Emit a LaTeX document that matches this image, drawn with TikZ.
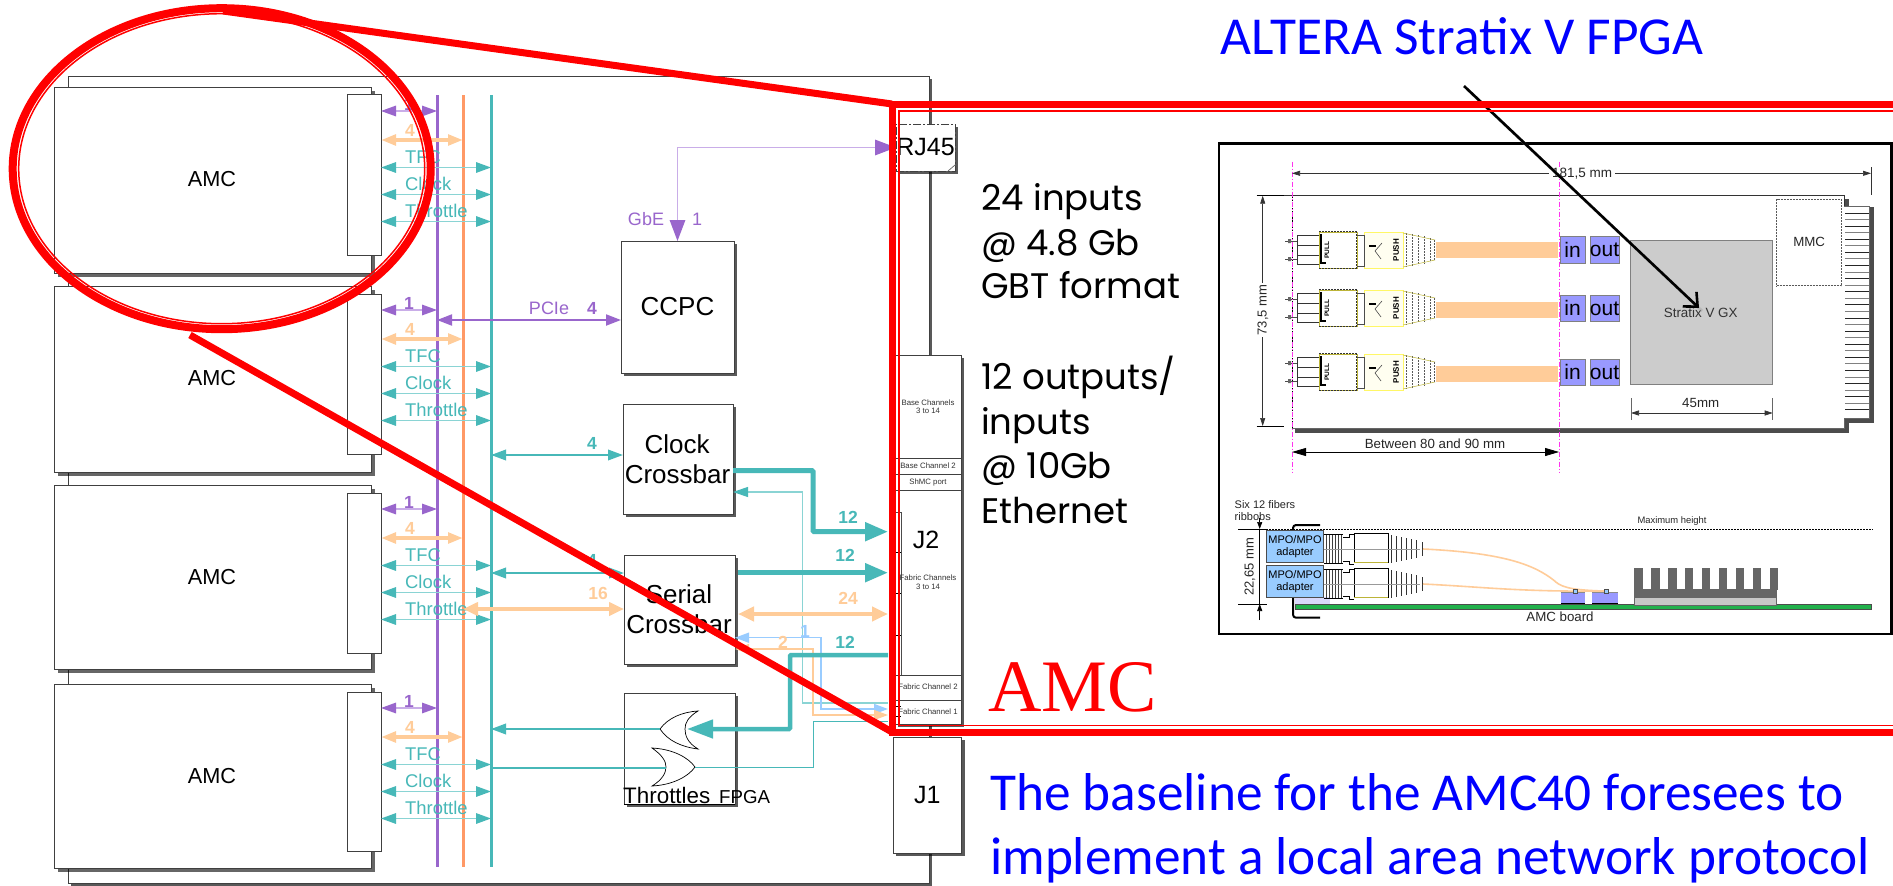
\documentclass[tikz,border=0pt]{standalone}
\usepackage{fontspec}
\setmainfont{Liberation Sans}
\newfontfamily\gothic{Poppins}
\newfontfamily\carl{Carlito}
\newfontfamily\tms{Liberation Serif}
\usetikzlibrary{arrows.meta,shadows,calc}
\definecolor{purp}{HTML}{9966CC}
\definecolor{purpl}{HTML}{C9ADE8}
\definecolor{orng}{HTML}{FF9966}
\definecolor{orngl}{HTML}{FFCC99}
\definecolor{teal1}{HTML}{47B8B8}
\definecolor{teall}{HTML}{8AD4D4}
\definecolor{skyb}{HTML}{99CCFF}
\definecolor{chipb}{HTML}{9999FF}
\definecolor{magen}{HTML}{FF33EE}
\definecolor{pcbg}{HTML}{22B14C}
\newcommand\fs[1]{\fontsize{#1}{#1}\selectfont}
\newcommand\rectnode[7]{%
  \pgfmathsetmacro\rcx{(#2+#4)/2}\pgfmathsetmacro\rcy{(#3+#5)/2}%
  \node[inner sep=0pt,outer sep=0pt,minimum width=#4pt-#2pt,minimum height=#5pt-#3pt,align=center,#6] (#1) at (\rcx,\rcy) {#7};}
\tikzset{
  x=1pt,y=-1pt,
  edge/.style={draw=black!75,line width=1pt,fill=white},
  sh3/.style={drop shadow={shadow xshift=3pt,shadow yshift=-3pt,opacity=.65,fill=black}},
  sh4/.style={drop shadow={shadow xshift=4pt,shadow yshift=-4pt,opacity=.6,fill=black}},
  bibox/.style n args={3}{arrows={Triangle[length=#2pt,width=#3pt,color=#1]-Triangle[length=#2pt,width=#3pt,color=#1]}},
  onebox/.style n args={3}{arrows={-Triangle[length=#2pt,width=#3pt,color=#1]}},
  lab/.style={inner sep=0pt},
  dimtip/.style={arrows={Triangle[length=8pt,width=5pt]-Triangle[length=8pt,width=5pt]},line width=.7pt,draw=black!80},
  dimtext/.style={inner sep=0pt,text=black!85},
  magline/.style={draw=magen,line width=.8pt,dash pattern=on 5pt off 2pt on 1pt off 2pt},
}
\newcommand\fiberconn[1]{%
 \begin{scope}[shift={(0,#1)}]
  \draw[black!70,line width=.8pt] (1285,-9)--(1297,-9) (1285,9)--(1297,9);
  \fill[black!60] (1288,-11) rectangle (1291,-7) (1288,7) rectangle (1291,11);
  \draw[black!80,line width=.7pt] (1297,-15) rectangle (1319,14) (1297,-5)--(1319,-5) (1297,5)--(1319,5);
  \draw[yellow!70!black,line width=.6pt] (1319,-18) rectangle (1357,18);
  \draw[black!80,line width=1pt,dash pattern=on 2pt off 1pt] (1319,-19)--(1357,-19) (1319,18.5)--(1357,18.5) (1356,-19)--(1356,18);
  \draw[black,line width=1.2pt] (1321,-16)--(1321,13)--(1326,13);
  \node[rotate=90,lab,font=\fs{6.5}\bfseries] at (1327,0) {PULL};
  \draw[yellow!60,line width=.7pt,fill=yellow!6] (1364,-18) rectangle (1403,18);
  \draw[black!70,line width=.7pt] (1357,-15)--(1364,-15)--(1364,16)--(1357,16);
  \draw[black!70,line width=.6pt] (1382,-7)--(1375,1)--(1381,9);
  \fill[black] (1369,-5) rectangle (1376,-3);
  \node[rotate=90,lab,font=\fs{8}\bfseries] at (1396,0) {PUSH};
  \foreach \q/\h in {1406/17,1412/16,1418/15,1424/14,1430/12,1434/10}{
    \draw[black!65,line width=.6pt,dash pattern=on 2pt off 1pt] (\q,-\h)--(\q,\h);}
  \draw[yellow!70!black,line width=.5pt] (1403,-17)--(1435,-10) (1403,17)--(1435,10);
 \end{scope}}
\newcommand\sideconn[1]{%
 \begin{scope}[shift={(0,#1)}]
  \foreach \q in {1326,1329,1332,1335,1338,1341}{\draw[black!75,line width=1pt] (\q,-15)--(\q,15);}
  \draw[black,line width=1pt] (1324,-15)--(1343,-15) (1324,14)--(1343,14);
  \draw[black,line width=1pt] (1343,-12)--(1349,-12)--(1349,-15)--(1354,-15) (1343,12)--(1349,12)--(1349,15)--(1354,15);
  \draw[black,line width=.8pt,fill=white] (1354,-16) rectangle (1388,13);
  \draw[yellow!70!black,line width=.8pt] (1354,13.7)--(1388,13.7);
  \foreach \q/\h in {1391/14,1396/13,1401/12,1406/11,1411/10,1416/9,1422/7}{\draw[black!80,line width=.8pt] (\q,-\h)--(\q,\h);}
  \draw[black!40,line width=.7pt] (1324,0)--(1420,0);
 \end{scope}}
\begin{document}
\begin{tikzpicture}
\useasboundingbox (0,0) rectangle (1893,886);
\fill[white] (0,0) rectangle (1893,886);
%% carrier board
\rectnode{board}{68}{76}{929}{883}{edge,sh3}{}
%% AMC cards
\foreach \nm/\ya/\yb/\yc/\yd/\yt in {1/87/273/94.5/255/179,2/286/472/294/454/378,3/485/669/493/653/577,4/684/868/692/851/776}{
  \rectnode{amc\nm}{54}{\ya}{371}{\yb}{edge,sh4}{}
  \node[lab,font=\fs{21.7}] at (212,\yt) {AMC};
  \rectnode{conn\nm}{347}{\yc}{381}{\yd}{edge}{}
}
%% buses
\coordinate (busP) at (437,95); \coordinate (busPe) at (437,867);
\coordinate (busO) at (463,95); \coordinate (busOe) at (463,867);
\coordinate (busT) at (491,95); \coordinate (busTe) at (491,867);
\draw[purp,line width=3pt] (busP)--(busPe);
\draw[orng,line width=3pt] (busO)--(busOe);
\draw[teal1,line width=3pt] (busT)--(busTe);
%% per slot arrows
\foreach \nm/\o in {1/0,2/199,3/398,4/597}{
  \draw[purpl,line width=1.5pt,bibox={purp}{15}{10.5}] (conn\nm.east |- 0,111+\o) -- (busP |- 0,111+\o);
  \node[lab,text=purp,font=\fs{17.5}\bfseries] at (409,104+\o) {1};
  \draw[orngl,line width=4pt,bibox={orngl}{15}{10.5}] (conn\nm.east |- 0,140+\o) -- (busO |- 0,140+\o);
  \node[lab,text=orngl,font=\fs{17.5}\bfseries] at (410,130+\o) {4};
  \foreach \yy/\tt in {167.5/TFC,194.5/Clock,221.5/Throttle}{
    \draw[teall,line width=1.5pt,bibox={teal1}{15}{10.5}] (conn\nm.east |- 0,\yy+\o) -- (busT |- 0,\yy+\o);
    \node[lab,anchor=base west,text=teal1,font=\fs{18.4}] at (405,\yy-4+\o) {\tt};
  }
}
%% functional boxes
\rectnode{ccpc}{621}{241}{734}{373}{edge,sh3,font=\fs{26}}{CCPC}
\rectnode{clkx}{623}{404}{733}{514}{edge,sh3}{}
\node[lab,font=\fs{26}] at (677,444) {Clock};
\node[lab,font=\fs{26}] at (677.5,474) {Crossbar};
\rectnode{serx}{624}{555}{735}{664}{edge,sh3}{}
\rectnode{thrf}{624}{693}{735}{804}{edge,sh3}{}
\rectnode{rj}{896}{124}{955}{171}{draw=black!75,dash pattern=on 8pt off 2pt on 2pt off 2pt,line width=1pt,fill=white,sh3,font=\fs{25}}{RJ45}
\draw[black!60,line width=.7pt] (948,171)--(955,165);
%% J2 column
\rectnode{basech}{895}{355}{961}{458}{edge,sh3}{}
\rectnode{base2}{895}{458}{961}{474}{edge,sh3}{}
\rectnode{shmc}{895}{474}{961}{490}{edge,sh3}{}
\rectnode{jtwo}{895}{490}{961}{675}{edge,sh3}{}
\rectnode{fab2}{895}{675}{961}{700}{edge,sh3}{}
\rectnode{fab1}{895}{700}{961}{724}{edge,sh3}{}
\rectnode{jone}{893}{737}{961.5}{853}{edge,sh3,font=\fs{25}}{J1}
\draw[black!70,line width=1pt] (895,512)--(901,512)--(901,675);
\foreach \yy in {552,593,635,706,716}{\draw[black,line width=1pt] (895,\yy)--(901,\yy);}
\foreach \tx/\yy in {Base Channels/402.7,3 to 14/410.5,Base Channel 2/466,ShMC port/482,Fabric Channels/578,3 to 14/587,Fabric Channel 2/687,Fabric Channel 1/712}{
  \node[lab,text=black!80,font=\fs{7.8}] at (928,\yy) {\tx};}
\node[lab,font=\fs{25}] at (926,540) {J2};
%% connectors
\coordinate (jwest) at (888,0);
\draw[purp,line width=2pt,bibox={purp}{15}{11}] (busP |- 0,320) -- (ccpc.west |- 0,320);
\node[lab,text=purp,font=\fs{18}] at (549,308) {PCIe};
\node[lab,text=purp,font=\fs{17.5}\bfseries] at (592,308) {4};
\draw[purpl,line width=1.5pt,bibox={purp}{21}{15.5}] (ccpc.north) -- (ccpc.north |- rj.west) -- (rj.west);
\node[lab,text=purp,font=\fs{18}] at (646,219) {GbE};
\node[lab,text=purp,font=\fs{18}] at (697,219) {1};
\draw[teal1,line width=2pt,bibox={teal1}{15}{10.5}] (busT |- 0,455) -- (clkx.west |- 0,455);
\node[lab,text=teal1,font=\fs{17.5}\bfseries] at (592,443) {4};
\draw[teal1,line width=5pt,onebox={teal1}{23}{18},rounded corners=1pt] (clkx.east |- 0,470.7) -- (813,470.7) -- (813,531.7) -- (jwest |- 0,531.7);
\node[lab,text=teal1,font=\fs{17.5}\bfseries] at (848,517) {12};
\draw[teall,line width=1.2pt,arrows={Triangle[length=15pt,width=10pt,color=teal1]-}] (clkx.east |- 0,492) -- (802.7,492) -- (802.7,703) -- (jwest |- 0,703);
\draw[teal1,line width=2pt,bibox={teal1}{15}{10.5}] (busT |- 0,573) -- (serx.west |- 0,573);
\node[lab,text=teal1,font=\fs{17.5}\bfseries] at (592,560) {4};
\draw[orngl,line width=4.5pt,bibox={orngl}{15}{13}] (busO |- 0,609) -- (serx.west |- 0,609);
\node[lab,text=orngl,font=\fs{17.5}\bfseries] at (598,593) {16};
\draw[teal1,line width=5pt,onebox={teal1}{23}{18}] (738,572.7) -- (jwest |- 0,572.7);
\node[lab,text=teal1,font=\fs{17.5}\bfseries] at (845,555.7) {12};
\draw[orngl,line width=4.5pt,bibox={orngl}{16}{14}] (738,614) -- (jwest |- 0,614);
\node[lab,text=orngl,font=\fs{17.5}\bfseries] at (848,598) {24};
\draw[skyb,line width=1.5pt,bibox={skyb}{14}{10}] (serx.east |- 0,637.7) -- (821,637.7) -- (821,709) -- (jwest |- 0,709);
\node[lab,text=skyb,font=\fs{17.5}\bfseries] at (805,631) {1};
\draw[orngl,line width=1.2pt,bibox={orngl}{14}{10}] (serx.east |- 0,649) -- (813,649) -- (813,715) -- (jwest |- 0,715);
\node[lab,text=orngl,font=\fs{17.5}\bfseries] at (783,642) {2};
\node[lab,text=teal1,font=\fs{17.5}\bfseries] at (845,642) {12};
%% throttle gates
\draw[black,line width=.7pt,fill=white] (660,729) .. controls (668,718) and (682,712) .. (698,711) .. controls (688,717) and (685,723) .. (685,729) .. controls (685,736) and (688,743) .. (698,749) .. controls (682,747) and (668,741) .. (660,729) -- cycle;
\coordinate (gateA) at (660,729);
\draw[black,line width=.7pt,fill=white] (695,767) .. controls (688,757) and (672,749) .. (652,748) .. controls (662,755) and (666,761) .. (666,767) .. controls (666,773) and (662,780) .. (652,786) .. controls (672,785) and (688,777) .. (695,767) -- cycle;
\coordinate (gateBin) at (666,767.5); \coordinate (gateBout) at (695,767.5);
\draw[teal1,line width=2pt,onebox={teal1}{15}{10.5}] (gateA) -- (busT |- gateA);
\draw[teal1,line width=2pt] (gateBin) -- (busT |- gateBin);
\draw[teal1,line width=1pt] (gateBout) -- (813,767.5) -- (813,721.7) -- (jwest |- 0,721.7);
\draw[teal1,line width=4.5pt,onebox={teal1}{26}{18},rounded corners=1pt] (jwest |- 0,655) -- (790,655) -- (790,729) -- (687,729);
\node[lab,anchor=base west,font=\fs{22.4}] at (623,803.5) {Throttles};
\node[lab,anchor=base west,font=\fs{18.7}] at (719,803.5) {FPGA};
\draw[black,line width=1pt] (624,804)--(735,804);
\node[lab,font=\fs{26}] at (679,594) {Serial};
\node[lab,font=\fs{26}] at (679,624) {Crossbar};
%% inset frame
\rectnode{inset}{1219}{143.5}{1891.5}{634}{draw=black,line width=2.5pt,fill=white}{}
%% AMC board plan view
\draw[black!70,line width=4pt] (1847,199)--(1847,209)--(1872,209)--(1872,421)--(1847,421)--(1847,431)--(1295,431);
\fill[white] (1292,196) -- (1844,196) -- (1844,206) -- (1869.5,206) -- (1869.5,418) -- (1844,418) -- (1844,428) -- (1292,428) -- cycle;
\draw[black!80,line width=.9pt] (1284,195.7)--(1844,195.7)--(1844,206);
\draw[black!60,line width=.9pt] (1844,206)--(1869.5,206)--(1869.5,418)--(1844,418)--(1844,428)--(1292,428);
\draw[black,line width=.6pt,dash pattern=on 2pt off 1pt] (1292,196)--(1292,428);
\foreach \i in {0,...,30}{
  \pgfmathsetmacro\yy{213+\i*6.56}
  \pgfmathparse{mod(\i,2)==0?"black!85":"black!50"}
  \edef\ccol{\pgfmathresult}
  \draw[draw=\ccol,line width=.9pt] (1845,\yy)--(1869,\yy);
}
\rectnode{mmc}{1776.7}{199}{1841.6}{285.7}{draw=black!65,dash pattern=on 2pt off 1pt,line width=.8pt,font=\fs{13.3},text=black!85}{MMC}
\rectnode{fpga}{1630}{240}{1772.7}{384}{draw=black!50,fill=black!20,line width=.8pt}{}
\node[lab,font=\fs{13.4},text=black!80] at (1700.7,312.7) {Stratix V GX};
\foreach \nm/\ya/\yb/\yfa/\yfb/\cy in {a/236.7/263/241.7/257.7/250,b/295/321.7/302/318/308,c/359/385.7/366/382/372}{
  \fill[orngl] (1435.5,\yfa) rectangle (1558,\yfb);
  \rectnode{in\nm}{1560}{\ya}{1585.3}{\yb}{draw=black!50,fill=chipb,line width=.7pt,font=\fs{21}}{in}
  \rectnode{out\nm}{1591.5}{\ya}{1617.6}{\yb}{draw=black!50,fill=chipb,line width=.7pt,font=\fs{21}}{out}
  \fiberconn{\cy}
}
\draw[magline] (1292,161.7)--(1292,473);
\draw[magline] (1559,161.7)--(1559,473);
\draw[dimtip] (1292,173.3)--(1871,173.3);
\node[lab,fill=white,inner xsep=3pt,font=\fs{13.5},text=black!85] at (1582,173.3) {181,5 mm};
\draw[black!80,line width=.7pt] (1871,167)--(1871,195);
\draw[black,line width=.7pt] (1256.6,195.5)--(1284,195.5) (1256.6,426)--(1284,426);
\draw[dimtip] (1262.7,195.7)--(1262.7,426);
\node[lab,fill=white,inner xsep=2pt,rotate=90,font=\fs{13},text=black!85] at (1263,310) {73,5 mm};
\node[dimtext,font=\fs{13.3}] at (1435,444) {Between 80 and 90 mm};
\draw[black,line width=.8pt,arrows={Triangle[length=14pt,width=8pt]-Triangle[length=14pt,width=8pt]}] (1292,452)--(1559,452);
\draw[dimtip] (1631,413)--(1772.7,413);
\draw[black!60,line width=.7pt] (1631,398)--(1631,420) (1772.7,398)--(1772.7,420);
\node[dimtext,font=\fs{13.3}] at (1700.7,402.7) {45mm};
%% side view
\node[dimtext,anchor=west,font=\fs{11}] at (1234.5,504.7) {Six 12 fibers};
\node[dimtext,anchor=west,font=\fs{11}] at (1234.5,516.7) {ribbobs};
\node[dimtext,font=\fs{9.4}] at (1672,521) {Maximum  height};
\draw[black,line width=.7pt,dash pattern=on 2pt off 1pt] (1239,529.3)--(1872.5,529.3);
\draw[black,line width=.7pt] (1238,529.3)--(1267,529.3) (1238,604)--(1267,604);
\draw[black,line width=.7pt] (1259.7,529)--(1259.7,604);
\draw[black,line width=.7pt,arrows={-Triangle[length=7pt,width=5pt]}] (1259.7,518)--(1259.7,529);
\draw[black,line width=.7pt,arrows={-Triangle[length=7pt,width=5pt]}] (1259.7,620)--(1259.7,604);
\node[dimtext,rotate=90,font=\fs{13}] at (1250,566.7) {22,65 mm};
\fill[black!10!blue!15] (1295,597) rectangle (1330,604);
\draw[black,line width=2pt,rounded corners=3pt] (1320,525)--(1293,525)--(1293,532);
\draw[black,line width=2pt,rounded corners=3pt] (1293,595)--(1293,617.7)--(1320,617.7);
\rectnode{pcb}{1295}{604}{1871.7}{609.3}{draw=black!70,fill=pcbg,line width=.7pt}{}
\rectnode{mpoa}{1266.3}{530.7}{1323.7}{562.3}{draw=black!70,fill=skyb,line width=1pt}{}
\rectnode{mpob}{1266.3}{565.7}{1323.7}{597.3}{draw=black!70,fill=skyb,line width=1pt}{}
\node[lab,font=\fs{11}] at (1295,540) {MPO/MPO};
\node[lab,font=\fs{11}] at (1295,552.7) {adapter};
\node[lab,font=\fs{11}] at (1295,575) {MPO/MPO};
\node[lab,font=\fs{11}] at (1295,588) {adapter};
\sideconn{549}
\sideconn{584}
\draw[orngl,line width=1.6pt] (1423,549) .. controls (1509,553) and (1536,566.7) .. (1553.5,580) .. controls (1560,586) and (1566,590) .. (1604,591);
\draw[orngl,line width=1.6pt] (1423,584) .. controls (1480,586.7) and (1520,592) .. (1604,591);
\rectnode{chipa}{1561}{591.7}{1585}{603.3}{fill=chipb}{}
\rectnode{chipc}{1592.4}{591.7}{1617.6}{603.3}{fill=chipb}{}
\draw[black,line width=1pt] (1561,603.3)--(1585,603.3) (1592.4,603.3)--(1617.6,603.3);
\draw[black!45,line width=1pt] (1561,592)--(1585,592) (1592.4,592)--(1617.6,592);
\draw[black!70,fill=skyb,line width=.5pt] (1573,589)rectangle(1577,593) (1604,589)rectangle(1608,593);
\fill[black!60] (1634,589.3) rectangle (1776.7,597.3);
\foreach \i in {0,...,8}{\pgfmathsetmacro\xx{1634+\i*16.95}\fill[black!60] (\xx,568) rectangle (\xx+8.6,590);}
\rectnode{sink}{1634}{597.3}{1776.7}{605}{draw=black!60,fill=black!22,line width=.7pt}{}
\node[dimtext,font=\fs{13.3}] at (1560,617) {AMC board};
%% side texts
\foreach \tx/\yy in {24 inputs/210,@ 4.8 Gb/255,GBT format/298,12 outputs\slash/389,inputs/434,@ 10Gb/478,Ethernet/523}{
  \node[lab,anchor=base west,font=\fs{35.5}\gothic] at (981,\yy) {\tx};}
\node[lab,text=blue,font=\fs{53.4}\carl] at (1462,36) {ALTERA Stratix V FPGA};
\node[lab,anchor=base west,text=blue,font=\fs{53.3}\carl] at (990,810) {The baseline for the AMC40 foresees to};
\node[lab,anchor=base west,text=blue,font=\fs{53.3}\carl] at (990,874) {implement a local area network protocol};
\node[lab,anchor=base west,text=red,font=\fs{74}\tms] at (988,711.7) {AMC};
%% black pointer
\coordinate (ptrA) at (1464,86); \coordinate (ptrB) at (1699,308);
\draw[black!35,line width=3pt,opacity=.5] ($(ptrA)+(3,3)$)--($(ptrB)+(3,3)$);
\draw[black,line width=2.6pt,arrows={-Straight Barb[length=11pt,width=20pt]}] (ptrA)--(ptrB);
%% red zoom marks
\coordinate (ringC) at (221.7,168.7);
\coordinate (rT) at (223,11); \coordinate (rB) at (190,335);
\coordinate (rcTL) at (892,104); \coordinate (rcBL) at (892,732);
\draw[red,line width=8pt] (ringC) ellipse [x radius=209,y radius=160.5];
\draw[red,line width=1.5pt] (ringC) ellipse [x radius=203,y radius=155];
\draw[red,line width=7pt] (rT)--(rcTL);
\draw[red,line width=7pt] (rB)--(rcBL);
\draw[red,line width=7pt] (1893,104)--(rcTL)--(rcBL)--(1893,732);
\draw[red,line width=1.5pt] (1893,111)--(899,111)--(899,725.7)--(1893,725.7);
\end{tikzpicture}
\end{document}
